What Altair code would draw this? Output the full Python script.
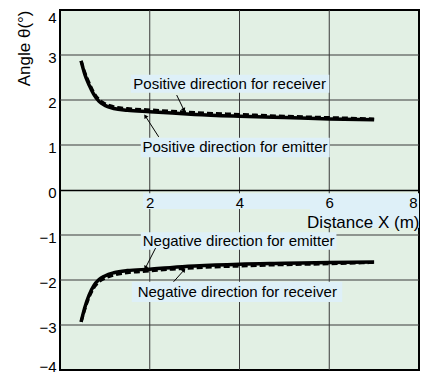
import altair as alt
import pandas as pd

# ---- data ----
x_pts = [0.47, 0.55, 0.65, 0.75, 0.87, 1.0, 1.2, 1.5, 2.0, 2.5, 3.0, 4.0, 5.0, 6.0, 7.0]
pos_emitter = [2.87, 2.58, 2.33, 2.13, 1.97, 1.88, 1.81, 1.77, 1.74, 1.71, 1.68, 1.64, 1.61, 1.58, 1.56]
pos_receiver = [2.87, 2.62, 2.38, 2.17, 2.01, 1.92, 1.85, 1.81, 1.78, 1.75, 1.72, 1.68, 1.64, 1.61, 1.58]
neg_emitter = [-2.93, -2.62, -2.33, -2.13, -1.99, -1.91, -1.84, -1.79, -1.76, -1.72, -1.69, -1.65, -1.63, -1.61, -1.60]
neg_receiver = [-2.93, -2.66, -2.38, -2.18, -2.04, -1.96, -1.89, -1.84, -1.80, -1.76, -1.73, -1.69, -1.66, -1.64, -1.61]

x_ticks = [2, 4, 6, 8]
y_ticks = [-4, -3, -2, -1, 0, 1, 2, 3, 4]
x_grid = [2, 4, 6]
y_grid = [-3, -2, -1, 1, 2, 3]

labels = ["Positive direction for receiver", "Positive direction for emitter",
          "Negative direction for emitter", "Negative direction for receiver"]
label_x = [3.78, 3.9, 3.98, 3.95]
label_y = [2.36, 0.96, -1.13, -2.27]
box_x1 = [1.58, 1.8, 1.8, 1.6]
box_x2 = [6.0, 6.01, 6.16, 6.29]
box_y1 = [2.56, 1.16, -0.94, -2.04]
box_y2 = [2.16, 0.73, -1.33, -2.49]
arrow_x1 = [2.6, 2.2, 2.13, 2.53]
arrow_y1 = [2.11, 1.18, -1.29, -2.04]
arrow_x2 = [2.755, 1.91, 1.91, 2.755]
arrow_y2 = [1.79, 1.63, -1.72, -1.79]
arrow_angle = [155, 327, 208, 40]

# blue bands behind the x tick labels and the x title
band_x1 = [1.85, 5.57]
band_x2 = [8.0, 8.0]
band_y1 = [-0.07, -0.42]
band_y2 = [-0.42, -0.84]

FONT = "Liberation Sans"
BG = "#e2f0e4"
BOX = "#def0f8"

xs = alt.Scale(domain=[0, 8], nice=False)
ys = alt.Scale(domain=[-4, 4], nice=False)

n = len(x_pts)
curves = pd.DataFrame({
    "x": x_pts * 4,
    "y": pos_emitter + pos_receiver + neg_emitter + neg_receiver,
    "series": ["pe"] * n + ["pr"] * n + ["ne"] * n + ["nr"] * n,
    "kind": ["emitter"] * n + ["receiver"] * n + ["emitter"] * n + ["receiver"] * n,
    "order": list(range(n)) * 4,
})

boxes = pd.DataFrame({"x1": box_x1 + band_x1, "x2": box_x2 + band_x2,
                      "y1": box_y1 + band_y1, "y2": box_y2 + band_y2})
texts = pd.DataFrame({"t": labels, "x": label_x, "y": label_y})
arrows = pd.DataFrame({"x1": arrow_x1, "y1": arrow_y1, "x2": arrow_x2, "y2": arrow_y2, "a": arrow_angle})

X_AXIS = alt.Axis(values=x_ticks, offset=-180, grid=False, ticks=False, domain=True,
                  domainColor="black", domainWidth=1.5, labelPadding=5,
                  labelFlush=True, labelFlushOffset=-2,
                  title="Distance X (m)", titleAnchor="end", titleFontSize=17,
                  titleAlign="right", titleBaseline="middle", titleX=359, titleY=32,
                  zindex=1)
Y_AXIS = alt.Axis(values=y_ticks, grid=False, ticks=False, domain=False,
                  labelPadding=4, labelOffset=2, labelFlush=True, labelFlushOffset=2,
                  title="Angle θ(°)", titleFontSize=17, titleAngle=270,
                  titleAlign="right", titleBaseline="middle", titleX=-36, titleY=0)

vgrid = alt.Chart(pd.DataFrame({"x": x_grid})).mark_rule(color="#3a3a3a", strokeWidth=1).encode(
    x=alt.X("x:Q", scale=xs, axis=X_AXIS))
hgrid = alt.Chart(pd.DataFrame({"y": y_grid})).mark_rule(color="#3a3a3a", strokeWidth=1).encode(
    y=alt.Y("y:Q", scale=ys, axis=Y_AXIS))

rects = alt.Chart(boxes).mark_rect(color=BOX).encode(
    x=alt.X("x1:Q", scale=xs), x2="x2:Q",
    y=alt.Y("y1:Q", scale=ys), y2="y2:Q")

dashed = alt.Chart(curves).transform_filter("datum.kind == 'receiver'").mark_line(
    color="black", strokeWidth=3, strokeDash=[6, 3], interpolate="monotone", strokeCap="butt").encode(
    x=alt.X("x:Q", scale=xs), y=alt.Y("y:Q", scale=ys),
    detail="series:N", order="order:Q")

solid = alt.Chart(curves).transform_filter("datum.kind == 'emitter'").mark_line(
    color="black", strokeWidth=3.5, interpolate="monotone", strokeCap="butt").encode(
    x=alt.X("x:Q", scale=xs), y=alt.Y("y:Q", scale=ys),
    detail="series:N", order="order:Q")

arrow_lines = alt.Chart(arrows).mark_rule(color="black", strokeWidth=1).encode(
    x=alt.X("x1:Q", scale=xs), y=alt.Y("y1:Q", scale=ys), x2="x2:Q", y2="y2:Q")
arrow_heads = alt.Chart(arrows).mark_point(shape="triangle", filled=True, color="black",
                                           size=22, opacity=1).encode(
    x=alt.X("x2:Q", scale=xs), y=alt.Y("y2:Q", scale=ys),
    angle=alt.Angle("a:Q", scale=None))

text = alt.Chart(texts).mark_text(font=FONT, fontSize=15, color="black").encode(
    x=alt.X("x:Q", scale=xs), y=alt.Y("y:Q", scale=ys), text="t:N")

chart = alt.layer(vgrid, hgrid, rects, dashed, solid, arrow_lines, arrow_heads, text).properties(
    width=359, height=360, background="white",
    autosize=alt.AutoSizeParams(type="none"),
    padding={"left": 52, "top": 2, "right": 1, "bottom": 5},
).configure_view(fill=BG, stroke="black", strokeWidth=2
).configure_axis(labelFont=FONT, labelFontSize=15, labelColor="black",
                 titleFont=FONT, titleFontWeight="normal", titleColor="black")

chart.save("out.html", embed_options={"renderer": "svg", "actions": False})
